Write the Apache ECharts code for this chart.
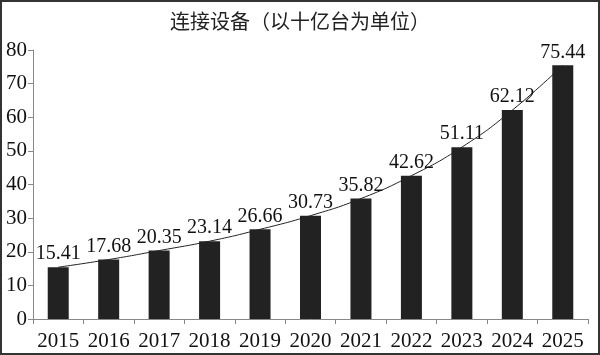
<!DOCTYPE html>
<html><head><meta charset="utf-8">
<script src="https://cdn.jsdelivr.net/npm/echarts@6/dist/echarts.min.js"></script>
<style>
html,body{margin:0;padding:0;background:#fff;}
#c{width:600px;height:355px;box-sizing:border-box;border:2px solid #333;}
</style></head><body>
<div id="c"></div>
<script>
const years = ['2015','2016','2017','2018','2019','2020','2021','2022','2023','2024','2025'];
const devices = [15.41,17.68,20.35,23.14,26.66,30.73,35.82,42.62,51.11,62.12,75.44];
const yTicks = [0,10,20,30,40,50,60,70,80];
const titleText = '连接设备（以十亿台为单位）';

const font = '"Liberation Serif","DejaVu Serif",serif';
const chart = echarts.init(document.getElementById('c'), null, {renderer:'canvas'});
chart.setOption({
  animation:false,
  title:{text:titleText,left:'center',top:4,textStyle:{fontFamily:'"Noto Sans CJK SC",'+font,fontSize:20,fontWeight:'normal',color:'#222'}},
  grid:{left:31,right:10,top:48,bottom:34},
  xAxis:{type:'category',data:years,
    axisLine:{lineStyle:{color:'#888'}},
    axisTick:{show:true,interval:0,alignWithLabel:false,lineStyle:{color:'#888'},length:5},
    axisLabel:{interval:0,fontFamily:font,fontSize:21,color:'#111',margin:12}},
  yAxis:{type:'value',min:yTicks[0],max:yTicks[yTicks.length-1],interval:10,
    axisLine:{show:true,lineStyle:{color:'#888'}},
    axisTick:{show:true,lineStyle:{color:'#888'},length:5},
    splitLine:{show:false},
    axisLabel:{fontFamily:font,fontSize:21,color:'#111',margin:6}},
  series:[
    {type:'line',data:devices,smooth:true,symbol:'none',z:1,
     lineStyle:{color:'#222',width:1}},
    {type:'bar',data:devices,barWidth:21,z:2,
     itemStyle:{color:'#222'},
     label:{show:true,position:'top',distance:3,fontFamily:font,fontSize:20,color:'#111',
       formatter:p=>p.value.toFixed(2)}}
  ]
});
</script></body></html>
